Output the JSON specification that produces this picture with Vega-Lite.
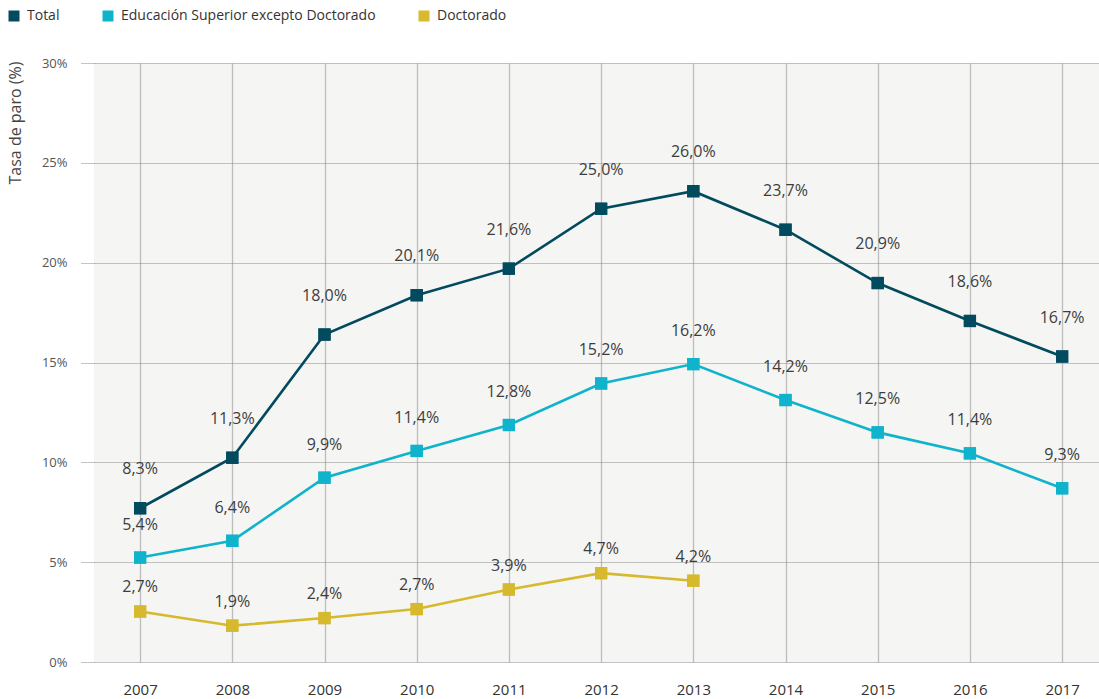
{
  "$schema": "https://vega.github.io/schema/vega-lite/v6.json",
  "width": 1005,
  "height": 599,
  "autosize": {"type": "none"},
  "padding": {"left": 94, "top": 63, "right": 0, "bottom": 37},
  "background": "white",
  "config": {
    "font": "Open Sans",
    "view": {"fill": "#f5f5f3", "stroke": null}
  },
  "data": {
    "values": [
      {"year": 2007, "serie": "Total", "value": 7.7, "label": "8,3%"},
      {"year": 2008, "serie": "Total", "value": 10.23, "label": "11,3%"},
      {"year": 2009, "serie": "Total", "value": 16.4, "label": "18,0%"},
      {"year": 2010, "serie": "Total", "value": 18.37, "label": "20,1%"},
      {"year": 2011, "serie": "Total", "value": 19.7, "label": "21,6%"},
      {"year": 2012, "serie": "Total", "value": 22.7, "label": "25,0%"},
      {"year": 2013, "serie": "Total", "value": 23.58, "label": "26,0%"},
      {"year": 2014, "serie": "Total", "value": 21.65, "label": "23,7%"},
      {"year": 2015, "serie": "Total", "value": 18.98, "label": "20,9%"},
      {"year": 2016, "serie": "Total", "value": 17.08, "label": "18,6%"},
      {"year": 2017, "serie": "Total", "value": 15.3, "label": "16,7%"},
      {"year": 2007, "serie": "Educación Superior excepto Doctorado", "value": 5.23, "label": "5,4%"},
      {"year": 2008, "serie": "Educación Superior excepto Doctorado", "value": 6.07, "label": "6,4%"},
      {"year": 2009, "serie": "Educación Superior excepto Doctorado", "value": 9.23, "label": "9,9%"},
      {"year": 2010, "serie": "Educación Superior excepto Doctorado", "value": 10.57, "label": "11,4%"},
      {"year": 2011, "serie": "Educación Superior excepto Doctorado", "value": 11.87, "label": "12,8%"},
      {"year": 2012, "serie": "Educación Superior excepto Doctorado", "value": 13.95, "label": "15,2%"},
      {"year": 2013, "serie": "Educación Superior excepto Doctorado", "value": 14.92, "label": "16,2%"},
      {"year": 2014, "serie": "Educación Superior excepto Doctorado", "value": 13.12, "label": "14,2%"},
      {"year": 2015, "serie": "Educación Superior excepto Doctorado", "value": 11.5, "label": "12,5%"},
      {"year": 2016, "serie": "Educación Superior excepto Doctorado", "value": 10.45, "label": "11,4%"},
      {"year": 2017, "serie": "Educación Superior excepto Doctorado", "value": 8.7, "label": "9,3%"},
      {"year": 2007, "serie": "Doctorado", "value": 2.53, "label": "2,7%"},
      {"year": 2008, "serie": "Doctorado", "value": 1.82, "label": "1,9%"},
      {"year": 2009, "serie": "Doctorado", "value": 2.2, "label": "2,4%"},
      {"year": 2010, "serie": "Doctorado", "value": 2.65, "label": "2,7%"},
      {"year": 2011, "serie": "Doctorado", "value": 3.63, "label": "3,9%"},
      {"year": 2012, "serie": "Doctorado", "value": 4.45, "label": "4,7%"},
      {"year": 2013, "serie": "Doctorado", "value": 4.07, "label": "4,2%"}
    ]
  },
  "encoding": {
    "x": {
      "field": "year",
      "type": "quantitative",
      "scale": {"domain": [2006.5, 2017.4], "nice": false, "zero": false},
      "axis": {
        "values": [2007, 2008, 2009, 2010, 2011, 2012, 2013, 2014, 2015, 2016, 2017],
        "format": "d",
        "title": null,
        "domain": false,
        "ticks": false,
        "labelFontSize": 15,
        "labelColor": "#333333",
        "labelPadding": 20,
        "labelFlush": false,
        "grid": true,
        "gridColor": "#bdbdbd",
        "gridWidth": 1.3,
        "gridOpacity": 1
      }
    },
    "y": {
      "field": "value",
      "type": "quantitative",
      "scale": {"domain": [0, 30], "nice": false},
      "axis": {
        "values": [0, 5, 10, 15, 20, 25, 30],
        "labelExpr": "datum.value + '%'",
        "domain": false,
        "ticks": true,
        "tickSize": 14,
        "tickColor": "#888888",
        "tickDash": [1, 1],
        "labelPadding": 13,
        "labelFontSize": 13,
        "labelColor": "#555555",
        "grid": true,
        "gridColor": "#8a8a8a",
        "gridDash": [1, 1],
        "gridOpacity": 1,
        "title": "Tasa de paro (%)",
        "titleFontSize": 16,
        "titleFontWeight": "normal",
        "titleColor": "#444444",
        "titleAngle": 270,
        "titleAlign": "right",
        "titleBaseline": "top",
        "titleX": -87,
        "titleY": -2
      }
    },
    "color": {
      "field": "serie",
      "type": "nominal",
      "scale": {
        "domain": ["Total", "Educación Superior excepto Doctorado", "Doctorado"],
        "range": ["#024a5e", "#10b3cc", "#d6b92c"]
      },
      "legend": {
        "orient": "none",
        "legendX": -87,
        "legendY": -54,
        "direction": "horizontal",
        "title": null,
        "labelFontSize": 14,
        "labelColor": "#333333",
        "symbolType": "square",
        "symbolSize": 121,
        "symbolOpacity": 1,
        "symbolStrokeWidth": 0,
        "columnPadding": 41,
        "labelOffset": 6,
        "padding": 0,
        "labelLimit": 400
      }
    }
  },
  "layer": [
    {
      "mark": {"type": "point", "shape": "square", "filled": true, "size": 150, "opacity": 1}
    },
    {
      "mark": {"type": "line", "strokeWidth": 2.6},
      "encoding": {}
    },
    {
      "mark": {"type": "point", "shape": "square", "filled": true, "size": 150, "opacity": 1}
    },
    {
      "transform": [{"filter": "datum.serie === 'Total'"}],
      "mark": {"type": "text", "dy": -39, "fontSize": 16, "color": "#3d3d3d"},
      "encoding": {"text": {"field": "label"}, "color": {"value": "#3d3d3d"}}
    },
    {
      "transform": [{"filter": "datum.serie === 'Educación Superior excepto Doctorado'"}],
      "mark": {"type": "text", "dy": -33, "fontSize": 16, "color": "#3d3d3d"},
      "encoding": {"text": {"field": "label"}, "color": {"value": "#3d3d3d"}}
    },
    {
      "transform": [{"filter": "datum.serie === 'Doctorado'"}],
      "mark": {"type": "text", "dy": -24, "fontSize": 16, "color": "#3d3d3d"},
      "encoding": {"text": {"field": "label"}, "color": {"value": "#3d3d3d"}}
    }
  ]
}
